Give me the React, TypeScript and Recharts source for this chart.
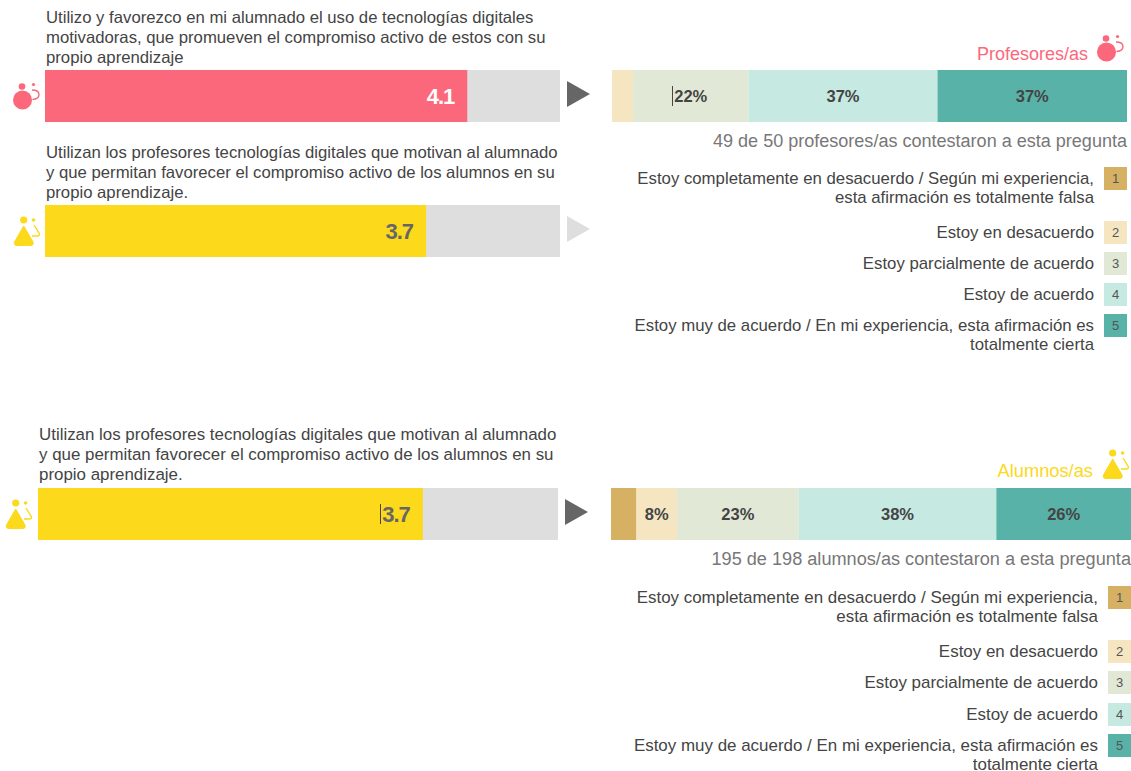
import React from "react";
import { BarChart, Bar, XAxis, YAxis, LabelList } from "recharts";

const FONT = '"Liberation Sans", Arial, sans-serif';

const TEACHER_QUESTION = [
  "Utilizo y favorezco en mi alumnado el uso de tecnologías digitales",
  "motivadoras, que promueven el compromiso activo de estos con su",
  "propio aprendizaje",
];
const STUDENT_QUESTION = [
  "Utilizan los profesores tecnologías digitales que motivan al alumnado",
  "y que permitan favorecer el compromiso activo de los alumnos en su",
  "propio aprendizaje.",
];

const TEACHER_SCORE = 4.1;
const STUDENT_SCORE_TEACHERS = 3.7;
const STUDENT_SCORE_STUDENTS = 3.7;

const TEACHER_ANSWERS = [0, 4.1, 22.4, 36.7, 36.8];
const STUDENT_ANSWERS = [4.9, 7.8, 23.4, 38, 25.9];
const ANSWER_KEYS = ["a1", "a2", "a3", "a4", "a5"];
const ANSWER_COLORS = ["#d6b163", "#f5e6c1", "#e1e8d5", "#c6e9e2", "#59b2a8"];

const LEGEND_LABELS = [
  ["Estoy completamente en desacuerdo / Según mi experiencia,", "esta afirmación es totalmente falsa"],
  ["Estoy en desacuerdo"],
  ["Estoy parcialmente de acuerdo"],
  ["Estoy de acuerdo"],
  ["Estoy muy de acuerdo / En mi experiencia, esta afirmación es", "totalmente cierta"],
];

const PINK = "#fc687b";
const YELLOW = "#fcd91a";

const TeacherIcon = ({ x, y }: { x: number; y: number }) => (
  <svg width={30} height={31} viewBox="0 0 30 31" style={{ position: "absolute", left: x, top: y }}>
    <circle cx="11.5" cy="20" r="9.5" fill={PINK} />
    <circle cx="11" cy="6.5" r="3.3" fill={PINK} />
    <circle cx="22.5" cy="4.5" r="1.6" fill={PINK} />
    <path d="M21 10 Q28 10 28 14.5 Q28 19 21.5 19.5" fill="none" stroke={PINK} strokeWidth="1.4" />
  </svg>
);

const StudentIcon = ({ x, y }: { x: number; y: number }) => (
  <svg width={30} height={31} viewBox="0 0 30 31" style={{ position: "absolute", left: x, top: y }}>
    <circle cx="10.7" cy="4" r="3.6" fill={YELLOW} />
    <circle cx="20.6" cy="4" r="1.8" fill={YELLOW} />
    <path d="M10.7 10 L20 26 Q21 29.5 17.5 29.5 L4 29.5 Q0.5 29.5 1.5 26 Z" fill={YELLOW} stroke={YELLOW} strokeLinejoin="round" />
    <path d="M21 9 L26.5 18 Q26.5 20 24 20 L19 20" fill="none" stroke={YELLOW} strokeWidth="1.4" />
  </svg>
);

const TextLines = ({ lines, x, y, right, color = "#444", size = 16.7, lineHeight = 20 }: any) => (
  <div
    style={{
      position: "absolute",
      top: y,
      ...(right !== undefined ? { right: 1131 - right, textAlign: "right" } : { left: x }),
      fontFamily: FONT,
      fontSize: size,
      lineHeight: `${lineHeight}px`,
      color,
      whiteSpace: "nowrap",
    }}
  >
    {lines.map((l: string) => (
      <div key={l}>{l}</div>
    ))}
  </div>
);

const ScoreBar = ({ x, y, width, value, fill, labelColor }: any) => (
  <div style={{ position: "absolute", left: x, top: y }}>
    <BarChart
      width={width}
      height={52}
      data={[{ name: "score", value }]}
      layout="vertical"
      margin={{ top: 0, right: 0, bottom: 0, left: 0 }}
      barCategoryGap={0}
    >
      <XAxis type="number" domain={[0, 5]} hide />
      <YAxis type="category" dataKey="name" hide />
      <Bar dataKey="value" fill={fill} background={{ fill: "#dedede" }} isAnimationActive={false}>
        <LabelList
          dataKey="value"
          position="insideRight"
          offset={13}
          fill={labelColor}
          style={{ fontFamily: FONT, fontSize: 22, fontWeight: 700, letterSpacing: -1 }}
        />
      </Bar>
    </BarChart>
  </div>
);

const AnswerBar = ({ x, y, width, answers }: any) => {
  const row: Record<string, any> = { name: "answers" };
  ANSWER_KEYS.forEach((k, i) => (row[k] = answers[i]));
  return (
    <div style={{ position: "absolute", left: x, top: y }}>
      <BarChart
        width={width}
        height={52}
        data={[row]}
        layout="vertical"
        margin={{ top: 0, right: 0, bottom: 0, left: 0 }}
        barCategoryGap={0}
      >
        <XAxis type="number" domain={[0, 100]} hide />
        <YAxis type="category" dataKey="name" hide />
        {ANSWER_KEYS.map((k, i) => (
          <Bar key={k} dataKey={k} stackId="a" fill={ANSWER_COLORS[i]} isAnimationActive={false}>
            <LabelList
              dataKey={k}
              position="center"
              fill="#444"
              formatter={(v: any) => (v >= 7 ? `${Math.round(v)}%` : "")}
              style={{ fontFamily: FONT, fontSize: 16.5, fontWeight: 700 }}
            />
          </Bar>
        ))}
      </BarChart>
    </div>
  );
};

const Legend = ({ right, rows, size }: { right: number; rows: number[]; size: number }) => (
  <>
    {LEGEND_LABELS.map((lines, i) => (
      <React.Fragment key={i}>
        <TextLines lines={lines} right={right} y={rows[i] - 8} lineHeight={18.5} color="#444" size={size} />
        <div
          style={{
            position: "absolute",
            left: right + 10,
            top: rows[i] - 11,
            width: 23,
            height: 23,
            background: ANSWER_COLORS[i],
            fontFamily: FONT,
            fontSize: 13,
            lineHeight: "23px",
            textAlign: "center",
            color: "#555",
          }}
        >
          {i + 1}
        </div>
      </React.Fragment>
    ))}
  </>
);

const Arrow = ({ x, y, color }: { x: number; y: number; color: string }) => (
  <svg width={24} height={26} style={{ position: "absolute", left: x, top: y }}>
    <polygon points="0,0 23,13 0,26" fill={color} />
  </svg>
);

const Caret = ({ x, y }: { x: number; y: number }) => (
  <div style={{ position: "absolute", left: x, top: y, width: 1, height: 20, background: "#444" }} />
);

export default function App() {
  return (
    <div style={{ position: "absolute", left: 0, top: 0, width: 1131, height: 771, background: "#fff", overflow: "hidden" }}>
      <TextLines lines={TEACHER_QUESTION} x={46} y={8} size={16.72} />
      <TeacherIcon x={11} y={80} />
      <ScoreBar x={45} y={70} width={515} value={TEACHER_SCORE} fill={PINK} labelColor="#fff" />
      <Arrow x={567} y={81} color="#666" />

      <TextLines lines={STUDENT_QUESTION} x={46} y={143} size={16.72} />
      <StudentIcon x={13} y={216} />
      <ScoreBar x={45} y={205} width={515} value={STUDENT_SCORE_TEACHERS} fill={YELLOW} labelColor="#666" />
      <Arrow x={567} y={216} color="#dedede" />

      <TextLines lines={["Profesores/as"]} right={1088} y={44} color={PINK} size={18} />
      <TeacherIcon x={1095} y={32} />
      <AnswerBar x={612} y={70} width={515} answers={TEACHER_ANSWERS} />
      <Caret x={672} y={86} />
      <TextLines lines={["49 de 50 profesores/as contestaron a esta pregunta"]} right={1127} y={131} color="#777" size={18.05} />
      <Legend right={1094} rows={[178, 232, 263, 294, 325]} size={16.77} />

      <TextLines lines={STUDENT_QUESTION} x={39} y={425} size={16.9} />
      <StudentIcon x={5} y={499} />
      <ScoreBar x={38} y={488} width={520} value={STUDENT_SCORE_STUDENTS} fill={YELLOW} labelColor="#666" />
      <Caret x={380} y={504} />
      <Arrow x={565} y={499} color="#666" />

      <TextLines lines={["Alumnos/as"]} right={1093} y={461} color={YELLOW} size={18.3} />
      <StudentIcon x={1102} y={449} />
      <AnswerBar x={611} y={488} width={520} answers={STUDENT_ANSWERS} />
      <TextLines lines={["195 de 198 alumnos/as contestaron a esta pregunta"]} right={1131} y={549} color="#777" size={18.15} />
      <Legend right={1098} rows={[597, 651, 682, 714, 745]} size={16.95} />
    </div>
  );
}
